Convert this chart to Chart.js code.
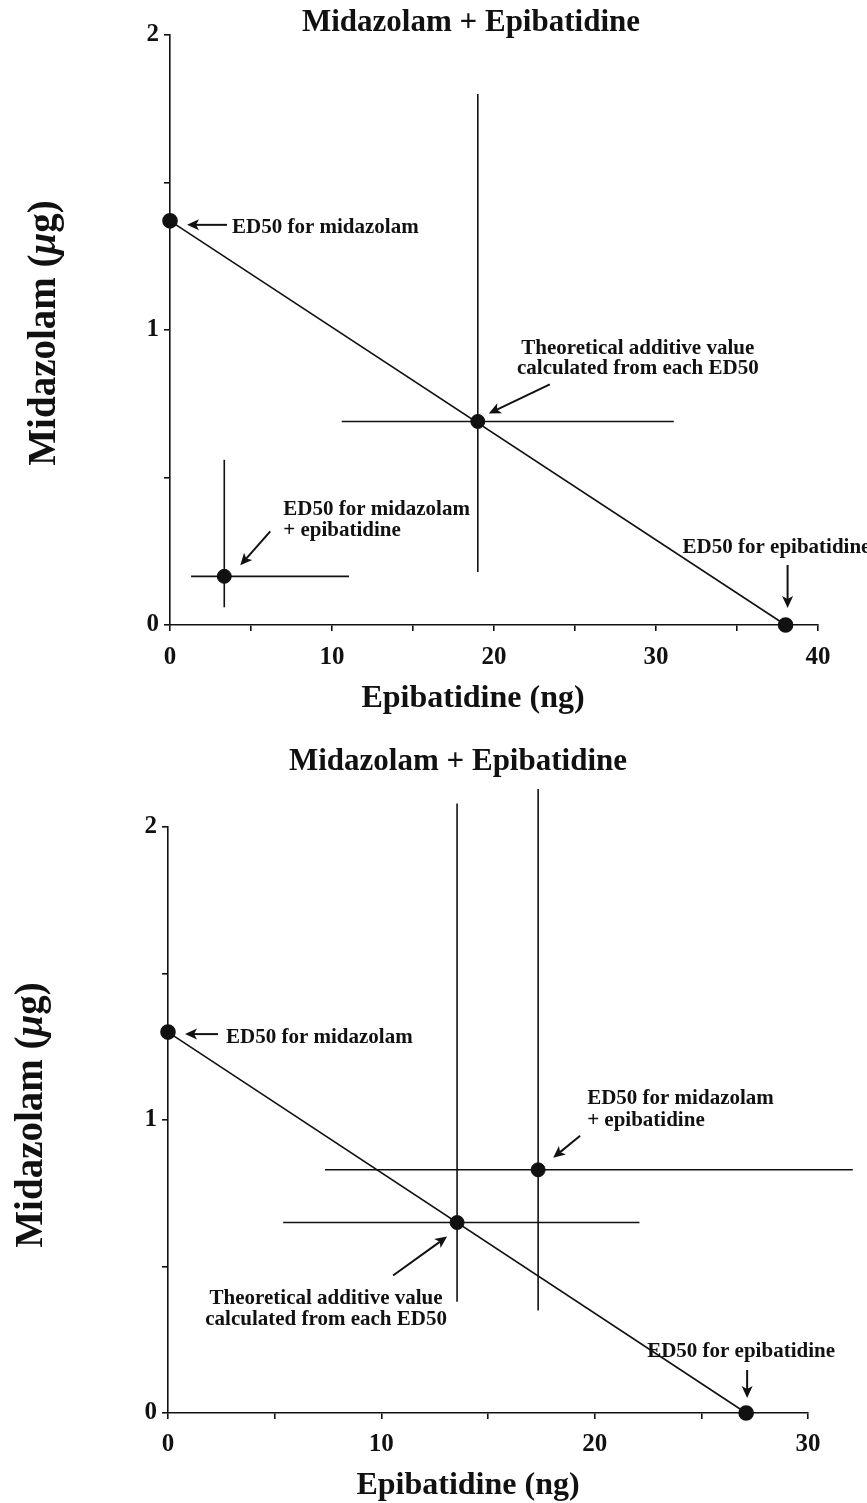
<!DOCTYPE html>
<html><head><meta charset="utf-8">
<script src="https://cdn.jsdelivr.net/npm/chart.js@4.4.1/dist/chart.umd.min.js"></script>
<style>
html,body{margin:0;padding:0;background:#fff;}
#wrap{position:relative;width:867px;height:1503px;background:#fff;}
.box{position:absolute;left:0;width:867px;}
#b1{top:0;height:720px;} #b2{top:720px;height:783px;}
</style></head><body>
<div id="wrap"><div class="box" id="b1"><canvas id="c1"></canvas></div><div class="box" id="b2"><canvas id="c2"></canvas></div></div>
<script>
// ---------------- data ----------------
const panelTitle = 'Midazolam + Epibatidine';
const xAxisTitle = 'Epibatidine (ng)';
const yAxisTitleParts = ['Midazolam (', 'μ', 'g)'];

// top panel
const topXTicks = [0, 10, 20, 30, 40];
const topYTicks = [0, 1, 2];
const topIsoboleX = [0, 38.0];
const topIsoboleY = [1.37, 0];
const topTheoretical = [19.0, 0.69];
const topTheoXErr = [10.6, 31.1];
const topTheoYErr = [0.18, 1.80];
const topCombo = [3.35, 0.165];
const topComboXErr = [1.3, 11.05];
const topComboYErr = [0.06, 0.56];

// bottom panel
const botXTicks = [0, 10, 20, 30];
const botYTicks = [0, 1, 2];
const botIsoboleX = [0, 27.1];
const botIsoboleY = [1.30, 0];
const botTheoretical = [13.55, 0.65];
const botTheoXErr = [5.4, 22.1];
const botTheoYErr = [0.38, 2.08];
const botCombo = [17.35, 0.83];
const botComboXErr = [7.36, 32.1];
const botComboYErr = [0.35, 2.13];

const annTopMid = ['ED50 for midazolam'];
const annTheo = ['Theoretical additive value', 'calculated from each ED50'];
const annCombo = ['ED50 for midazolam', '+ epibatidine'];
const annEpi = ['ED50 for epibatidine'];

// ---------------- drawing ----------------
const FONT = '"Liberation Serif", "Times New Roman", serif';
const INK = '#111';

function arrow(ctx, x1, y1, x2, y2) {
  ctx.save();
  ctx.strokeStyle = INK; ctx.fillStyle = INK; ctx.lineWidth = 2;
  const a = Math.atan2(y2 - y1, x2 - x1);
  const L = 12, W = 5.5;
  const bx = x2 - Math.cos(a) * (L - 3), by = y2 - Math.sin(a) * (L - 3);
  ctx.beginPath(); ctx.moveTo(x1, y1); ctx.lineTo(bx, by); ctx.stroke();
  ctx.beginPath();
  ctx.moveTo(x2, y2);
  ctx.lineTo(x2 - Math.cos(a) * L + Math.sin(a) * W, y2 - Math.sin(a) * L - Math.cos(a) * W);
  ctx.lineTo(bx, by);
  ctx.lineTo(x2 - Math.cos(a) * L - Math.sin(a) * W, y2 - Math.sin(a) * L + Math.cos(a) * W);
  ctx.closePath(); ctx.fill();
  ctx.restore();
}

function text(ctx, s, x, y, size, align) {
  ctx.save();
  ctx.font = 'bold ' + size + 'px ' + FONT;
  ctx.fillStyle = INK; ctx.textAlign = align || 'center'; ctx.textBaseline = 'middle';
  ctx.fillText(s, x, y);
  ctx.restore();
}

function yTitle(ctx, x, y, size) {
  ctx.save();
  ctx.translate(x, y); ctx.rotate(-Math.PI / 2);
  ctx.fillStyle = INK; ctx.textBaseline = 'middle'; ctx.textAlign = 'left';
  const fonts = yAxisTitleParts.map((p, i) => (i === 1 ? 'italic bold ' : 'bold ') + size + 'px ' + FONT);
  let total = 0;
  const w = yAxisTitleParts.map((p, i) => { ctx.font = fonts[i]; const m = ctx.measureText(p).width; total += m; return m; });
  let cx = -total / 2;
  yAxisTitleParts.forEach((p, i) => { ctx.font = fonts[i]; ctx.fillText(p, cx, 0); cx += w[i]; });
  ctx.restore();
}

const textPlugin = {
  id: 'textPlugin',
  afterDraw(chart, args, o) {
    const ctx = chart.ctx;
    text(ctx, panelTitle, o.title[0], o.title[1], 31);
    text(ctx, xAxisTitle, o.xTitle[0], o.xTitle[1], 32);
    yTitle(ctx, o.yTitle[0], o.yTitle[1], 39);
    o.notes.forEach(n => {
      const el = chart.getDatasetMeta(n.d).data[n.p];
      const px = el.x, py = el.y;
      n.lines.forEach((s, i) => text(ctx, s, px + n.tx, py + n.ty[i], 21, n.align));
      arrow(ctx, px + n.tail[0], py + n.tail[1], px + n.tip[0], py + n.tip[1]);
    });
  }
};

function xy(xs, ys) { return xs.map((x, i) => ({ x: x, y: ys[i] })); }

function makeChart(id, c) {
  const line = (data, order) => ({ data, showLine: true, borderColor: INK, borderWidth: 1.6, pointRadius: 0, clip: false, order });
  const dot = (data) => ({ data, showLine: false, pointRadius: 7, pointBackgroundColor: INK, pointBorderColor: INK, borderColor: INK, clip: false, order: 0 });
  const datasets = [
    Object.assign(line(xy(c.isoX, c.isoY), 1), { pointRadius: 7, pointBackgroundColor: INK, pointBorderColor: INK }),
    dot(xy([c.theo[0]], [c.theo[1]])),
    dot(xy([c.combo[0]], [c.combo[1]])),
    line(xy(c.theoX, [c.theo[1], c.theo[1]]), 2),
    line(xy([c.theo[0], c.theo[0]], c.theoY), 2),
    line(xy(c.comboX, [c.combo[1], c.combo[1]]), 2),
    line(xy([c.combo[0], c.combo[0]], c.comboY), 2)
  ];
  const tickFont = { family: FONT, weight: 'bold', size: 25 };
  return new Chart(document.getElementById(id), {
    type: 'scatter',
    data: { datasets },
    plugins: [textPlugin],
    options: {
      responsive: true, maintainAspectRatio: false, animation: false,
      layout: { padding: { top: c.padTop, right: c.padRight, left: 0, bottom: 0 } },
      plugins: { legend: { display: false }, tooltip: { enabled: false },
        textPlugin: { title: c.title, xTitle: c.xTitle, yTitle: c.yTitle, notes: c.notes } },
      scales: {
        x: {
          type: 'linear', min: 0, max: c.xMax,
          afterFit: s => { s.height = c.xH; },
          border: { color: INK, width: 1.6 },
          grid: { drawOnChartArea: false, drawTicks: true, tickLength: 6, color: INK, lineWidth: 1.6 },
          ticks: { stepSize: 5, autoSkip: false, maxRotation: 0, color: INK, font: tickFont, padding: c.xPad,
            callback: v => (c.xTicks.includes(v) ? String(v) : '') }
        },
        y: {
          type: 'linear', min: 0, max: 2,
          afterFit: s => { s.width = c.yW; },
          border: { color: INK, width: 1.6 },
          grid: { drawOnChartArea: false, drawTicks: true, tickLength: 6, color: INK, lineWidth: 1.6 },
          ticks: { stepSize: 0.5, autoSkip: false, color: INK, font: tickFont, padding: 5,
            callback: v => (c.yTicks.includes(v) ? String(v) : '') }
        }
      }
    }
  });
}

makeChart('c1', {
  isoX: topIsoboleX, isoY: topIsoboleY, theo: topTheoretical, theoX: topTheoXErr, theoY: topTheoYErr,
  combo: topCombo, comboX: topComboXErr, comboY: topComboYErr,
  xMax: 40, xTicks: topXTicks, yTicks: topYTicks,
  padTop: 35, padRight: 49, yW: 170, xH: 95, xPad: 12,
  title: [471, 23], xTitle: [473, 699], yTitle: [45, 333],
  notes: [
    { d: 0, p: 0, lines: annTopMid, tx: 62, ty: [7], align: 'left', tail: [57, 4], tip: [17, 4] },
    { d: 1, p: 0, lines: annTheo, tx: 160, ty: [-73, -53], align: 'center', tail: [72, -37], tip: [11, -8] },
    { d: 2, p: 0, lines: annCombo, tx: 59, ty: [-67, -46], align: 'left', tail: [46, -45], tip: [16, -11] },
    { d: 0, p: 1, lines: annEpi, tx: -103, ty: [-77], align: 'left', tail: [2, -60], tip: [2, -17] }
  ]
});

makeChart('c2', {
  isoX: botIsoboleX, isoY: botIsoboleY, theo: botTheoretical, theoX: botTheoXErr, theoY: botTheoYErr,
  combo: botCombo, comboX: botComboXErr, comboY: botComboYErr,
  xMax: 30, xTicks: botXTicks, yTicks: botYTicks,
  padTop: 107, padRight: 59, yW: 168, xH: 90, xPad: 11,
  title: [458, 42], xTitle: [468, 766], yTitle: [32, 395],
  notes: [
    { d: 0, p: 0, lines: annTopMid, tx: 58, ty: [5], align: 'left', tail: [50, 2], tip: [17, 2] },
    { d: 2, p: 0, lines: annCombo, tx: 49, ty: [-71, -49], align: 'left', tail: [42, -34], tip: [15, -12] },
    { d: 1, p: 0, lines: annTheo, tx: -131, ty: [76, 97], align: 'center', tail: [-64, 53], tip: [-10, 14] },
    { d: 0, p: 1, lines: annEpi, tx: -99, ty: [-61], align: 'left', tail: [1, -43], tip: [1, -15] }
  ]
});
</script>
</body></html>
